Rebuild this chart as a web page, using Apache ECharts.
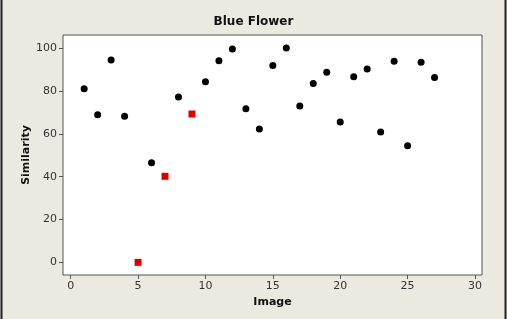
<!DOCTYPE html>
<html><head><meta charset="utf-8">
<script src="https://cdn.jsdelivr.net/npm/echarts@6/dist/echarts.min.js"></script>
<style>html,body{margin:0;padding:0;background:#ece9e0}#c{width:507px;height:319px}</style>
</head><body><div id="c"></div>
<script>
const images = [1,2,3,4,6,8,10,11,12,13,14,15,16,17,18,19,20,21,22,23,24,25,26,27];
const similarity = [81.1,69.0,94.5,68.2,46.5,77.2,84.4,94.2,99.7,71.8,62.3,91.9,100.1,73.0,83.6,88.8,65.6,86.7,90.3,60.9,93.9,54.5,93.5,86.4];
const redImages = [5,7,9];
const redSimilarity = [0,40.2,69.3];
const xTicks = [0,5,10,15,20,25,30];
const yTicks = [0,20,40,60,80,100];

const chart = echarts.init(document.getElementById('c'));
const font = 'DejaVu Sans';
chart.setOption({
  animation:false,
  backgroundColor:'#ece9e0',
  title:{text:'Blue Flower',left:'center',top:11,textStyle:{fontFamily:font,fontSize:12,fontWeight:'bold',color:'#111'}},
  grid:{left:63,right:25,top:35,bottom:44,show:true,backgroundColor:'#fff',borderColor:'#555',borderWidth:1},
  xAxis:{type:'value',min:-0.57,max:30.52,name:'Image',nameLocation:'middle',nameGap:21,
    nameTextStyle:{fontFamily:font,fontSize:11,fontWeight:'bold',color:'#111'},
    axisLine:{show:false,onZero:false},splitLine:{show:false},
    axisTick:{show:true,length:4,customValues:xTicks,lineStyle:{color:'#555'}},
    axisLabel:{customValues:xTicks,fontFamily:font,fontSize:11,color:'#333',margin:6}},
  yAxis:{type:'value',min:-5.9,max:106.2,name:'Similarity',nameLocation:'middle',nameGap:31,nameMoveOverlap:false,nameRotate:90,
    nameTextStyle:{fontFamily:font,fontSize:11,fontWeight:'bold',color:'#111'},
    axisLine:{show:false,onZero:false},splitLine:{show:false},
    axisTick:{show:true,length:4,customValues:yTicks,lineStyle:{color:'#555'}},
    axisLabel:{customValues:yTicks,fontFamily:font,fontSize:11,color:'#333',margin:6}},
  graphic:[
    {type:'line',shape:{x1:1.5,y1:0,x2:1.5,y2:319},style:{stroke:'#222',lineWidth:2},silent:true},
    {type:'line',shape:{x1:505.5,y1:0,x2:505.5,y2:319},style:{stroke:'#222',lineWidth:2},silent:true}
  ],
  series:[
    {type:'scatter',symbol:'circle',symbolSize:7,itemStyle:{color:'#000',opacity:1},data:images.map((x,i)=>[x,similarity[i]])},
    {type:'scatter',symbol:'rect',symbolSize:7,itemStyle:{color:'#e00000',opacity:1},data:redImages.map((x,i)=>[x,redSimilarity[i]])}
  ]
});
</script></body></html>
